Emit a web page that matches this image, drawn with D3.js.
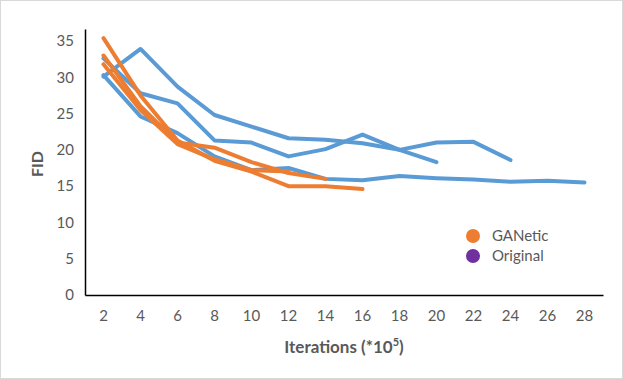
<!DOCTYPE html>
<html>
<head>
<meta charset="utf-8">
<script src="https://cdn.jsdelivr.net/npm/d3@7"></script>
<style>
  body { margin: 0; background: #fff; }
  text { font-family: Lato, "Open Sans", sans-serif; }
</style>
</head>
<body>
<div id="chart"></div>
<script>
// iterations (*10^5)
const iterations = [2, 4, 6, 8, 10, 12, 14, 16, 18, 20, 22, 24, 26, 28];
const yTicks = [0, 5, 10, 15, 20, 25, 30, 35];

// blue runs
const blueA = [30.1, 33.9, 28.7, 24.8, 23.2, 21.6, 21.4, 20.9, 20.0, 18.3];
const blueB = [32.6, 27.8, 26.4, 21.3, 21.0, 19.1, 20.1, 22.1, 20.0, 21.0, 21.1, 18.6];
const blueC = [30.3, 24.6, 22.3, 19.1, 17.2, 17.5, 16.0, 15.8, 16.4, 16.1, 15.9, 15.6, 15.75, 15.5];
// orange runs
const orangeA = [35.4, 27.5, 21.3, 18.5, 17.0, 15.0, 15.0, 14.6];
const orangeB = [33.0, 26.0, 21.0, 20.3, 18.3, 16.8, 16.0];
const orangeC = [31.8, 25.5, 20.8, 18.7, 17.2, 17.0];

const legendNames = ["GANetic", "Original"];
const legendColors = ["#ED7D31", "#7030A0"];

const blue = "#5B9BD5", orange = "#ED7D31";
const series = [
  {values: blueA, color: blue},
  {values: blueB, color: blue},
  {values: blueC, color: blue},
  {values: orangeA, color: orange},
  {values: orangeB, color: orange},
  {values: orangeC, color: orange}
];

const W = 623, H = 379;
const margin = {top: 29, right: 20, bottom: 84, left: 85};

const svg = d3.select("#chart").append("svg")
  .attr("width", W).attr("height", H);

// chart border
svg.append("rect")
  .attr("x", 0.5).attr("y", 0.5)
  .attr("width", W - 1).attr("height", H - 1)
  .attr("fill", "#fff").attr("stroke", "#d9d9d9");

const x = d3.scaleBand()
  .domain(iterations)
  .range([margin.left, W - margin.right]);

const y = d3.scaleLinear()
  .domain([0, 36.65])
  .range([H - margin.bottom, margin.top]);

// x axis
const xAxis = svg.append("g")
  .attr("transform", `translate(0,${H - margin.bottom})`)
  .call(d3.axisBottom(x).tickSize(0).tickPadding(15));
xAxis.select(".domain").attr("stroke", "#000").attr("stroke-width", 1.5);
xAxis.selectAll("text").attr("font-size", 15).attr("fill", "#595959")
  .attr("font-family", "Lato, 'Open Sans', sans-serif");

// y axis
const yAxis = svg.append("g")
  .attr("transform", `translate(${margin.left},0)`)
  .call(d3.axisLeft(y).tickValues(yTicks).tickSize(0).tickPadding(11));
yAxis.select(".domain").attr("stroke", "#000").attr("stroke-width", 1.5);
yAxis.selectAll("text").attr("font-size", 15).attr("fill", "#595959")
  .attr("font-family", "Lato, 'Open Sans', sans-serif");

// lines
const line = d3.line()
  .x((d, i) => x(iterations[i]) + x.bandwidth() / 2)
  .y(d => y(d));

svg.selectAll("path.run")
  .data(series)
  .join("path")
  .attr("class", "run")
  .attr("fill", "none")
  .attr("stroke", d => d.color)
  .attr("stroke-width", 4)
  .attr("stroke-linejoin", "round")
  .attr("stroke-linecap", "round")
  .attr("d", d => line(d.values));

// axis titles
const xt = svg.append("text")
  .attr("x", (margin.left + W - margin.right) / 2)
  .attr("y", 353)
  .attr("text-anchor", "middle")
  .attr("font-size", 17)
  .attr("font-weight", "bold")
  .attr("fill", "#595959")
  .text("Iterations (*10");
xt.append("tspan").attr("dy", -7).attr("font-size", 11).text("5");
xt.append("tspan").attr("dy", 7).text(")");

svg.append("text")
  .attr("transform", `translate(43,${(margin.top + H - margin.bottom) / 2 + 2}) rotate(-90)`)
  .attr("text-anchor", "middle")
  .attr("font-size", 16)
  .attr("font-weight", "bold")
  .attr("fill", "#595959")
  .text("FID");

// legend
const legend = svg.append("g").attr("transform", "translate(473,236)");
legend.selectAll("circle")
  .data(legendNames)
  .join("circle")
  .attr("cx", 0)
  .attr("cy", (d, i) => i * 20)
  .attr("r", 7)
  .attr("fill", (d, i) => legendColors[i]);
legend.selectAll("text")
  .data(legendNames)
  .join("text")
  .attr("x", 19)
  .attr("y", (d, i) => i * 20)
  .attr("dy", "0.36em")
  .attr("font-size", 15)
  .attr("fill", "#595959")
  .text(d => d);
</script>
</body>
</html>
